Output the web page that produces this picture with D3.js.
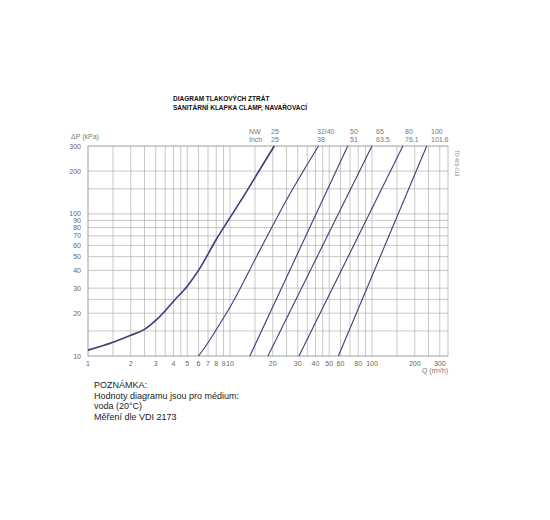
<!DOCTYPE html>
<html><head><meta charset="utf-8">
<script src="https://cdn.jsdelivr.net/npm/d3@7"></script>
<style>body{margin:0;background:#fff;font-family:"Liberation Sans",Arial,sans-serif}</style>
</head><body><svg id="c" width="550" height="520"></svg>
<script>
// values
var xGrid = [1,1.5,2,2.5,3,3.5,4,4.5,5,6,7,8,9,10,15,20,25,30,35,40,45,50,60,70,80,90,100,150,200,250,300];
var xTicks = [1,2,3,4,5,6,7,8,9,10,20,30,40,50,60,80,100,200,300];
var yGrid = [10,15,20,25,30,40,50,60,70,80,90,100,150,200,300];
var yTicks = [10,20,30,40,50,60,70,80,90,100,200,300];
var nw = ["25","32/40","50","65","80","100"];
var inch = ["25","38","51","63.5","76.1","101.6"];
var curves = [
  [[1,11],[1.5,12.5],[2,14],[2.5,15.4],[3,17.8],[3.5,20.8],[4,24.3],[5,31],[6,40],[8,66],[10,94],[13,142],[16,200],[20.5,300]],
  [[6,10],[7,12.4],[8,15.3],[10,22],[16,54],[25,125],[42,300]],
  [[13.8,10],[67.5,300]],
  [[18.5,10],[100,300]],
  [[30.6,10],[165,300]],
  [[58,10],[243,300]]
];

var svg = d3.select("#c");
var x = d3.scaleLog().domain([1,343]).range([88,448]);
var y = d3.scaleLog().domain([10,300]).range([356,146]);
var grid = "#b0b0b0", col = "#3b3f78";

svg.append("g").selectAll("line").data(xGrid).join("line")
  .attr("x1",d=>x(d)).attr("x2",d=>x(d)).attr("y1",146).attr("y2",356)
  .attr("stroke",grid).attr("stroke-width",0.7);
svg.append("g").selectAll("line").data(yGrid).join("line")
  .attr("x1",88).attr("x2",448).attr("y1",d=>y(d)).attr("y2",d=>y(d))
  .attr("stroke",grid).attr("stroke-width",0.7);
svg.append("rect").attr("x",88).attr("y",146).attr("width",360).attr("height",210)
  .attr("fill","none").attr("stroke",grid).attr("stroke-width",0.8);

svg.append("g").selectAll("text").data(xTicks).join("text")
  .attr("x",d=>x(d)).attr("y",366).attr("text-anchor","middle")
  .attr("font-size",7).attr("fill","#666").text(d=>d);
svg.append("g").selectAll("text").data(yTicks).join("text")
  .attr("x",81).attr("y",d=>y(d)+2.5).attr("text-anchor","end")
  .attr("font-size",7).attr("fill","#666").text(d=>d);

var line = d3.line().x(d=>x(d[0])).y(d=>y(d[1])).curve(d3.curveMonotoneX);
svg.append("g").selectAll("path").data(curves).join("path")
  .attr("d",line).attr("fill","none").attr("stroke",col)
  .attr("stroke-width",(d,i)=>i==0?1.6:1.1);

var lx = [271,317,350,376,405,431];
svg.append("text").attr("x",249).attr("y",134).attr("font-size",7).attr("fill","#777").text("NW");
svg.append("text").attr("x",249).attr("y",142).attr("font-size",7).attr("fill","#777").text("Inch");
svg.append("g").selectAll("text").data(nw).join("text")
  .attr("x",(d,i)=>lx[i]).attr("y",134).attr("font-size",7).attr("fill","#777").text(d=>d);
svg.append("g").selectAll("text").data(inch).join("text")
  .attr("x",(d,i)=>lx[i]).attr("y",142).attr("font-size",7).attr("fill","#777").text(d=>d);

svg.append("text").attr("x",71).attr("y",139).attr("font-size",7).attr("fill","#777").text("ΔP (kPa)");
svg.append("text").attr("x",448).attr("y",373).attr("text-anchor","end").attr("font-size",7).attr("fill","#777").text("Q (m³/h)");
svg.append("text").attr("transform","translate(455,150) rotate(90)").attr("font-size",5).attr("fill","#888").text("TD 405-013");

svg.append("text").attr("x",173).attr("y",101).attr("font-size",6.5).attr("font-weight","bold").attr("fill","#111").text("DIAGRAM TLAKOVÝCH ZTRÁT");
svg.append("text").attr("x",173).attr("y",110).attr("font-size",6.5).attr("font-weight","bold").attr("fill","#111").text("SANITÁRNÍ KLAPKA CLAMP, NAVAŘOVACÍ");

var notes = ["POZNÁMKA:","Hodnoty diagramu jsou pro médium:","voda (20°C)","Měření dle VDI 2173"];
svg.append("g").selectAll("text").data(notes).join("text")
  .attr("x",94).attr("y",(d,i)=>388+i*10.5).attr("font-size",9).attr("fill","#222").text(d=>d);
</script></body></html>
